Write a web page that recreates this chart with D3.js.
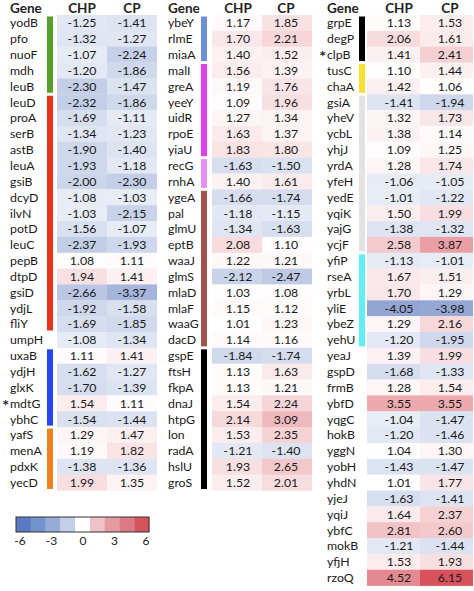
<!DOCTYPE html>
<html><head><meta charset="utf-8">
<script src="https://cdn.jsdelivr.net/npm/d3@7"></script>
<style>body{margin:0;background:#fff}svg{display:block}</style>
</head><body>
<svg id="c" width="474" height="591"></svg>
<script>
// ---------- DATA ----------
const genes1 = ["yodB","pfo","nuoF","mdh","leuB","leuD","proA","serB","astB","leuA","gsiB","dcyD","ilvN","potD","leuC","pepB","dtpD","gsiD","ydjL","fliY","umpH","uxaB","ydjH","glxK","mdtG","ybhC","yafS","menA","pdxK","yecD"];
const chp1 = [-1.25,-1.32,-1.07,-1.20,-2.30,-2.32,-1.69,-1.34,-1.90,-1.93,-2.00,-1.08,-1.03,-1.56,-2.37,1.08,1.94,-2.66,-1.92,-1.69,-1.08,1.11,-1.62,-1.70,1.54,-1.54,1.29,1.19,-1.38,1.99];
const cp1  = [-1.41,-1.27,-2.24,-1.86,-1.47,-1.86,-1.11,-1.23,-1.40,-1.18,-2.30,-1.03,-2.15,-1.07,-1.93,1.11,1.41,-3.37,-1.58,-1.85,-1.34,1.41,-1.27,-1.39,1.11,-1.44,1.47,1.82,-1.36,1.35];

const genes2 = ["ybeY","rlmE","miaA","malI","greA","yeeY","uidR","rpoE","yiaU","recG","rnhA","ygeA","pal","glmU","eptB","waaJ","glmS","mlaD","mlaF","waaG","dacD","gspE","ftsH","fkpA","dnaJ","htpG","lon","radA","hslU","groS"];
const chp2 = [1.17,1.70,1.40,1.56,1.19,1.09,1.27,1.63,1.83,-1.63,1.40,-1.66,-1.18,-1.34,2.08,1.22,-2.12,1.03,1.15,1.01,1.14,-1.84,1.13,1.13,1.54,2.14,1.53,-1.21,1.93,1.52];
const cp2  = [1.85,2.21,1.52,1.39,1.76,1.96,1.34,1.37,1.80,-1.50,1.61,-1.74,-1.15,-1.63,1.10,1.21,-2.47,1.08,1.12,1.23,1.16,-1.74,1.63,1.21,2.24,3.09,2.35,-1.40,2.65,2.01];

const genes3 = ["grpE","degP","clpB","tusC","chaA","gsiA","yheV","ycbL","yhjJ","yrdA","yfeH","yedE","yqiK","yajG","ycjF","yfiP","rseA","yrbL","yliE","ybeZ","yehU","yeaJ","gspD","frmB","ybfD","yqgC","hokB","yggN","yobH","yhdN","yjeJ","yqiJ","ybfC","mokB","yfjH","rzoQ"];
const chp3 = [1.13,2.06,1.41,1.10,1.42,-1.41,1.32,1.38,1.09,1.28,-1.06,-1.01,1.50,-1.38,2.58,-1.13,1.67,1.70,-4.05,1.29,-1.20,1.39,-1.68,1.28,3.55,-1.04,-1.20,1.04,-1.43,1.01,-1.63,1.64,2.81,-1.21,1.53,4.52];
const cp3  = [1.53,1.61,2.41,1.44,1.06,-1.94,1.73,1.14,1.25,1.74,-1.05,-1.22,1.99,-1.32,3.87,-1.01,1.51,1.29,-3.98,2.16,-1.95,1.99,-1.33,1.54,3.55,-1.47,-1.46,1.30,-1.47,1.77,-1.41,2.37,2.60,-1.44,1.93,6.15];

const starred = ["mdtG","clpB"];

// functional groups: [first gene, last gene]
const groups1 = [["yodB","leuB"],["leuD","fliY"],["uxaB","ybhC"],["yafS","yecD"]];
const groups2 = [["ybeY","miaA"],["malI","yiaU"],["recG","rnhA"],["ygeA","dacD"],["gspE","groS"]];
const groups3 = [["grpE","clpB"],["tusC","chaA"],["gsiA","ycjF"],["yfiP","yehU"]];

const headers = ["Gene","CHP","CP"];
const legendTicks = [-6,-3,0,3,6];

// ---------- STYLE ----------
const groupColors1 = ["#58a02c","#e8321e","#2346ee","#f0821e"];
const groupColors2 = ["#6f90d2","#e040ee","#e890f0","#a0524c","#000000"];
const groupColors3 = ["#000000","#f6e034","#e2e2e2","#62eef6"];
const legendColors = ["#5a7bbf","#7492cc","#96acd8","#c3cfe9","#ffffff","#efc2c6","#e49ba2","#dc7a83","#d6535e"];

const color = d3.scaleLinear()
  .domain([-6.2,-0.2,1,6.15])
  .range(["#5675ba","#ffffff","#ffffff","#d8525c"])
  .clamp(true);

const font = "Lato, 'Open Sans', sans-serif";
const svg = d3.select("#c");

const rowTop = 15, rowH = 15.85;

const panels = [
  {genes:genes1, chp:chp1, cp:cp1, groups:groups1, gcol:groupColors1, labelX:10, barX:47, cellX:57, cellW:50, textOff:[25,25]},
  {genes:genes2, chp:chp2, cp:cp2, groups:groups2, gcol:groupColors2, labelX:168, barX:201, cellX:212, cellW:50, textOff:[26,24]},
  {genes:genes3, chp:chp3, cp:cp3, groups:groups3, gcol:groupColors3, labelX:327, barX:359, cellX:367, cellW:53, textOff:[32,30]}
];

panels.forEach(p => {
  const y = d3.scaleBand().domain(p.genes).range([rowTop, rowTop + p.genes.length*rowH]).paddingInner(0);
  const x = d3.scaleBand().domain(["CHP","CP"]).range([p.cellX, p.cellX + 2*p.cellW]);
  const g = svg.append("g");

  // headers
  g.append("text").attr("x", p.labelX).attr("y", 12.5).text(headers[0])
    .attr("font-family", font).attr("font-weight", "bold").attr("font-size", 13.5).attr("fill","#222");
  ["CHP","CP"].forEach((h,i) => {
    g.append("text").attr("x", x(h) + p.textOff[i]).attr("y", 12.5).attr("text-anchor","middle").text(h)
      .attr("font-family", font).attr("font-weight", "bold").attr("font-size", 13.5).attr("fill","#222");
  });

  const rows = p.genes.map((gname,i) => ({gene:gname, CHP:p.chp[i], CP:p.cp[i]}));

  // cells
  ["CHP","CP"].forEach((k,ci) => {
    g.selectAll(null).data(rows).enter().append("rect")
      .attr("x", x(k)).attr("y", d => y(d.gene))
      .attr("width", x.bandwidth()).attr("height", y.bandwidth()+0.3)
      .attr("fill", d => color(d[k]));
    g.selectAll(null).data(rows).enter().append("text")
      .attr("x", x(k) + p.textOff[ci]).attr("y", d => y(d.gene) + y.bandwidth()/2 + 4.4)
      .attr("text-anchor","middle").attr("font-family", font).attr("font-size", 12.3).attr("fill","#1a1a1a")
      .text(d => d[k].toFixed(2));
  });

  // gene labels
  g.selectAll(null).data(rows).enter().append("text")
    .attr("x", p.labelX).attr("y", d => y(d.gene) + y.bandwidth()/2 + 4.4)
    .attr("font-family", font).attr("font-size", 12.3).attr("fill","#1a1a1a")
    .text(d => d.gene);
  g.selectAll(null).data(rows.filter(d => starred.includes(d.gene))).enter().append("text")
    .attr("x", p.labelX - 1).attr("y", d => y(d.gene) + y.bandwidth()/2 + 7.5)
    .attr("text-anchor","end").attr("font-family", font).attr("font-size", 16).attr("font-weight","bold").attr("fill","#1a1a1a")
    .text("*");

  // group bars
  g.selectAll(null).data(p.groups).enter().append("rect")
    .attr("x", p.barX).attr("width", 6)
    .attr("y", d => y(d[0]) + 1.5)
    .attr("height", d => y(d[1]) + y.bandwidth() - y(d[0]) - 3)
    .attr("fill", (d,i) => p.gcol[i]);
});

// legend
const lx = d3.scaleBand().domain(d3.range(legendColors.length)).range([16,149]);
const lg = svg.append("g");
lg.selectAll(null).data(legendColors).enter().append("rect")
  .attr("x", (d,i) => lx(i)).attr("y", 517).attr("width", lx.bandwidth()+0.3).attr("height", 15)
  .attr("fill", d => d);
lg.append("rect").attr("x",16).attr("y",517).attr("width",133).attr("height",15)
  .attr("fill","none").attr("stroke","#333").attr("stroke-width",1);
const tx = d3.scaleLinear().domain([-6,6]).range([20,146]);
lg.selectAll(null).data(legendTicks).enter().append("text")
  .attr("x", d => tx(d)).attr("y", 545).attr("text-anchor","middle")
  .attr("font-family", font).attr("font-size", 12).attr("fill","#222")
  .text(d => d);
</script>
</body></html>
